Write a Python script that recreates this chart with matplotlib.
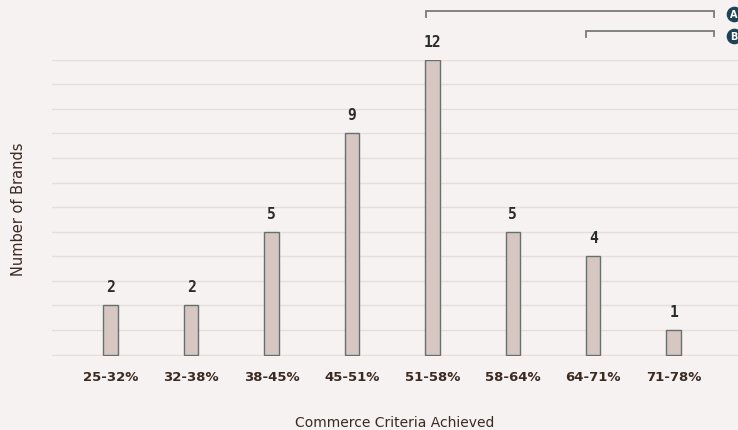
import matplotlib.pyplot as plt

# Distribution of brands by share of commerce criteria achieved.
ranges = ['25-32%', '32-38%', '38-45%', '45-51%', '51-58%', '58-64%', '64-71%', '71-78%']
brands = [2, 2, 5, 9, 12, 5, 4, 1]

bg = '#f6f2f1'
text_col = '#3b2a22'

fig = plt.figure(figsize=(7.38, 4.31), dpi=100, facecolor=bg)
ax = fig.add_axes([0.0705, 0.172, 0.9295, 0.687])
ax.set_facecolor(bg)

x = range(len(ranges))
ax.bar(x, brands, width=0.18, color='#d6c7c2', edgecolor='#66706e',
       linewidth=1, zorder=3)

# Value labels above each bar.
for i, v in zip(x, brands):
    ax.text(i, v + 0.45, str(v), ha='center', va='bottom', fontsize=10.5,
            fontweight='bold', fontfamily=['DejaVu Sans Mono'], color='#2b2b2b')

ax.set_xlim(-0.73, 7.8)
ax.set_ylim(-0.05, 12)
ax.set_yticks(range(0, 13))
ax.set_yticklabels([])
ax.tick_params(axis='y', length=0)
ax.tick_params(axis='x', length=0, pad=10)
ax.set_xticks(list(x))
ax.set_xticklabels(ranges, fontsize=9.5, fontweight='bold', color=text_col)
ax.grid(axis='y', color='#e5dedc', linewidth=1, zorder=0)
for s in ax.spines.values():
    s.set_visible(False)

ax.set_xlabel('Commerce Criteria Achieved', fontsize=10, color=text_col,
              labelpad=23)
ax.set_ylabel('Number of Brands', fontsize=10.5, color=text_col, labelpad=15)

# Brackets above the chart marking groups A and B.
bcol = '#7a7a7a'
for left, y, cy, label in [(4 - 0.085, 13.98, 13.86, 'A'), (6 - 0.085, 13.17, 12.97, 'B')]:
    ax.plot([left, left, 7.5, 7.5], [y - 0.25, y, y, y - 0.22], color=bcol,
            linewidth=1.3, clip_on=False, solid_joinstyle='miter')
    ax.scatter([7.75], [cy], s=105, color='#1d4354', zorder=5, clip_on=False)
    ax.text(7.745, cy, label, ha='center', va='center', fontsize=7,
            fontweight='bold', color='white', zorder=6, clip_on=False)

fig.savefig('out.png', dpi=100, facecolor=bg)
